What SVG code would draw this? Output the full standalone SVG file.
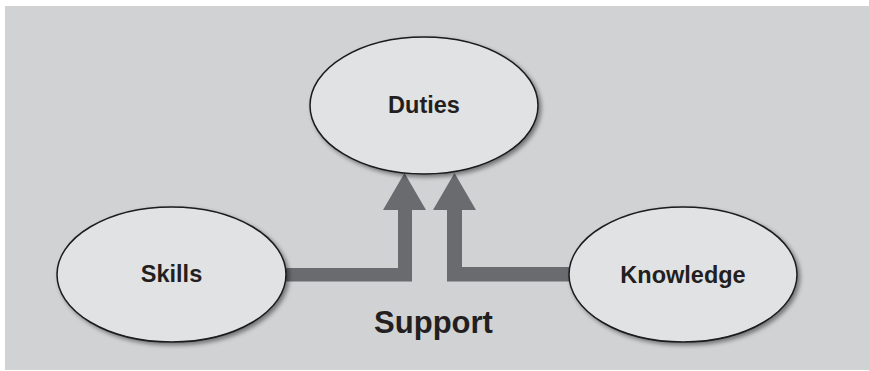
<svg xmlns="http://www.w3.org/2000/svg" width="869" height="371" viewBox="0 0 869 371">
<style>
.node ellipse{fill:#e1e2e4;stroke:#1a1a1a;stroke-width:1.5;filter:url(#sh)}
text{font-family:"Liberation Sans",Arial,sans-serif;font-weight:bold;fill:#231f20;text-anchor:middle}
.lbl{font-size:23.5px}
.conn{fill:#6a6b6f}
</style>
<defs>
<filter id="sh" x="-10%" y="-10%" width="125%" height="130%">
<feDropShadow dx="2.5" dy="2.5" stdDeviation="2" flood-color="#000" flood-opacity="0.45"/>
</filter>
</defs>
<rect x="0" y="0" width="869" height="371" fill="#ffffff"/>
<rect x="5" y="6" width="864" height="364" fill="#d1d2d4"/>
<g id="connectors">
<path class="conn" d="M284,268 H398 V210 H383 L404.5,173 L426,210 H412 V281.5 H284 Z"/>
<path class="conn" d="M572,267 H462 V210 H476 L454.5,173 L433,210 H447 V281.5 H572 Z"/>
</g>
<g id="duties" class="node">
<ellipse cx="424" cy="105.5" rx="114" ry="68.5"/>
<text class="lbl" x="424" y="113">Duties</text>
</g>
<g id="skills" class="node">
<ellipse cx="171.5" cy="274.5" rx="114.5" ry="67.5"/>
<text class="lbl" x="171.5" y="282">Skills</text>
</g>
<g id="knowledge" class="node">
<ellipse cx="683" cy="274.5" rx="114" ry="67.5"/>
<text class="lbl" x="683" y="283">Knowledge</text>
</g>
<text id="support" x="433.5" y="333" style="font-size:31px">Support</text>
</svg>
